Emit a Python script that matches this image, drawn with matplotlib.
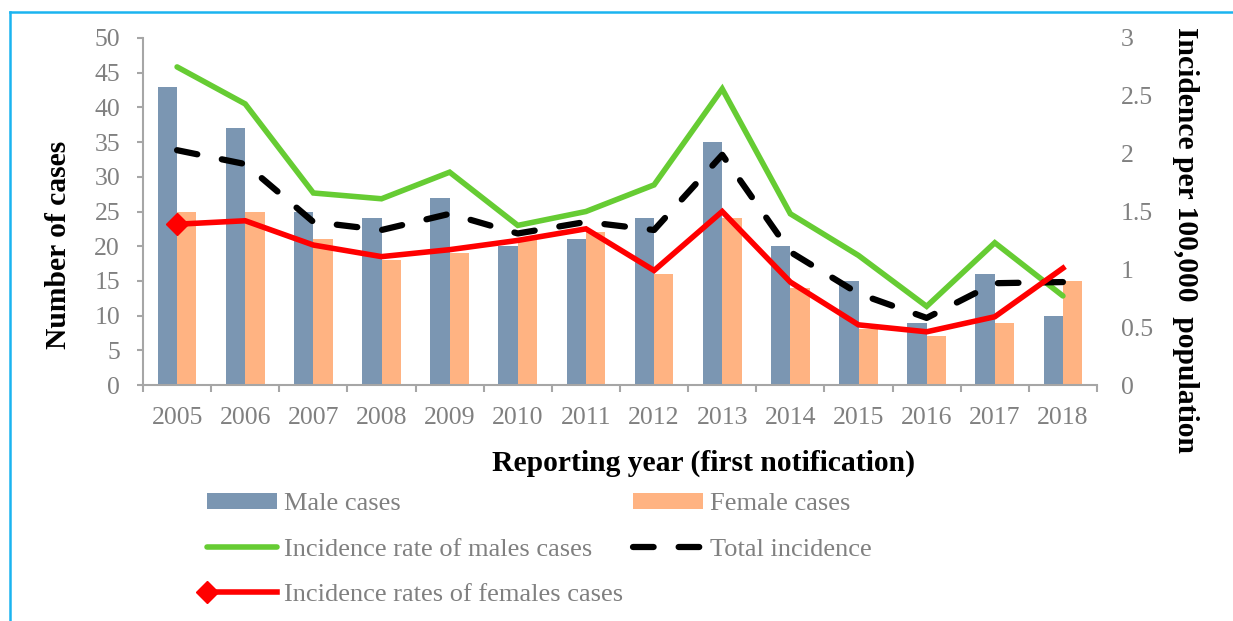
import numpy as np
import matplotlib
matplotlib.use('Agg')
import matplotlib.pyplot as plt
from matplotlib.lines import Line2D
from matplotlib.legend_handler import HandlerLine2D

# values
years = ['2005', '2006', '2007', '2008', '2009', '2010', '2011',
         '2012', '2013', '2014', '2015', '2016', '2017', '2018']
male_cases = [43, 37, 25, 24, 27, 20, 21, 24, 35, 20, 15, 9, 16, 10]
female_cases = [25, 25, 21, 18, 19, 21, 22, 16, 24, 14, 8, 7, 9, 15]
male_rate = [2.75, 2.43, 1.66, 1.61, 1.84, 1.38, 1.50, 1.73, 2.56, 1.48, 1.12, 0.68, 1.23, 0.77]
total_rate = [2.03, 1.91, 1.41, 1.34, 1.48, 1.31, 1.41, 1.34, 1.99, 1.15, 0.79, 0.58, 0.88, 0.89]
female_rate = [1.39, 1.42, 1.21, 1.11, 1.17, 1.25, 1.35, 0.99, 1.50, 0.89, 0.52, 0.46, 0.59, 1.01]
right_ticks = [0, 0.5, 1, 1.5, 2, 2.5, 3]
right_labels = ['0', '0.5', '1', '1.5', '2', '2.5', '3']

GREY_TXT = '#808080'
GREY_AX = '#A6A6A6'
FS = 18.5
FS_LEG = 19
FS_LAB = 21.3

plt.rcParams['font.family'] = ['Liberation Serif', 'DejaVu Serif']


class LeftMarkerHandler(HandlerLine2D):
    # legend entry with the marker at the left end of the line
    def create_artists(self, *args, **kwargs):
        artists = super().create_artists(*args, **kwargs)
        for a in artists:
            a.set_markevery([0])
        return artists


W, H = 1233, 621
fig = plt.figure(figsize=(W / 100, H / 100), dpi=100)
ax = fig.add_axes([143 / W, 1 - 385 / H, (1097 - 143) / W, (385 - 38) / H])

x = np.arange(len(years))
w = 0.285
b_male = ax.bar(x - w / 2, male_cases, w, color='#7B96B2', label='Male cases')
b_female = ax.bar(x + w / 2, female_cases, w, color='#FFB382', label='Female cases')

ax.set_xlim(-0.5, len(years) - 0.5)
ax.set_ylim(0, 50)
ax.set_yticks(range(0, 51, 5))
ax.set_xticks(x)
ax.set_xticklabels(years)
ax.set_xticks(np.arange(-0.5, len(years), 1), minor=True)
for s in ['top', 'right']:
    ax.spines[s].set_visible(False)
for s in ['left', 'bottom']:
    ax.spines[s].set_color(GREY_AX)
    ax.spines[s].set_linewidth(1.5)
ax.tick_params(axis='x', which='major', length=0, pad=16, labelsize=FS, labelcolor=GREY_TXT)
ax.tick_params(axis='x', which='minor', length=5, width=1.5, color=GREY_AX)
ax.tick_params(axis='y', length=4.5, width=1.5, color=GREY_AX, pad=12,
               labelsize=FS, labelcolor=GREY_TXT)

ax2 = ax.twinx()
ax2.set_ylim(0, 3)
ax2.set_yticks(right_ticks)
ax2.set_yticklabels(right_labels)
for s in ax2.spines.values():
    s.set_visible(False)
ax2.tick_params(axis='y', length=0, pad=17, labelsize=FS, labelcolor=GREY_TXT)

l_male, = ax2.plot(x, male_rate, color='#66CC33', lw=4, solid_capstyle='round',
                   solid_joinstyle='miter', label='Incidence rate of males cases')
l_total, = ax2.plot(x, total_rate, color='black', lw=4.5, dashes=(3.3, 4),
                    dash_capstyle='round', label='Total incidence')
l_female, = ax2.plot(x, female_rate, color='#FF0000', lw=4, solid_joinstyle='miter',
                     marker='D', markevery=[0], markersize=11,
                     label='Incidence rates of females cases')

handles = [b_male, l_male, l_female, b_female, l_total]
fig.legend(handles=handles, labels=[h.get_label() for h in handles], ncol=2,
           loc='upper left', bbox_to_anchor=(207 / W, 1 - 493 / H),
           frameon=False, fontsize=FS_LEG, labelcolor=GREY_TXT,
           handlelength=2.65, handletextpad=0.25, columnspacing=0.4,
           labelspacing=0.87, borderpad=0, borderaxespad=0, handleheight=0.55,
           handler_map={l_female: LeftMarkerHandler()})

fig.text(58 / W, 1 - 245 / H, 'Number of cases', rotation=90, ha='center',
         va='center', fontsize=FS_LAB, fontweight='bold')
fig.text(1186 / W, 1 - 240 / H, 'Incidence per 100,000  population', rotation=270,
         ha='center', va='center', fontsize=FS_LAB, fontweight='bold')
fig.text(703 / W, 1 - 471 / H, 'Reporting year (first notification)', ha='center',
         va='baseline', fontsize=FS_LAB, fontweight='bold')

# light blue frame around the figure
fx, fy = 10 / W, 1 - 12 / H
fig.add_artist(Line2D([fx, fx], [0, fy], transform=fig.transFigure, color='#1AB4F0', lw=1.8))
fig.add_artist(Line2D([fx, 1], [fy, fy], transform=fig.transFigure, color='#1AB4F0', lw=1.8))

fig.savefig('out.png', dpi=100)
